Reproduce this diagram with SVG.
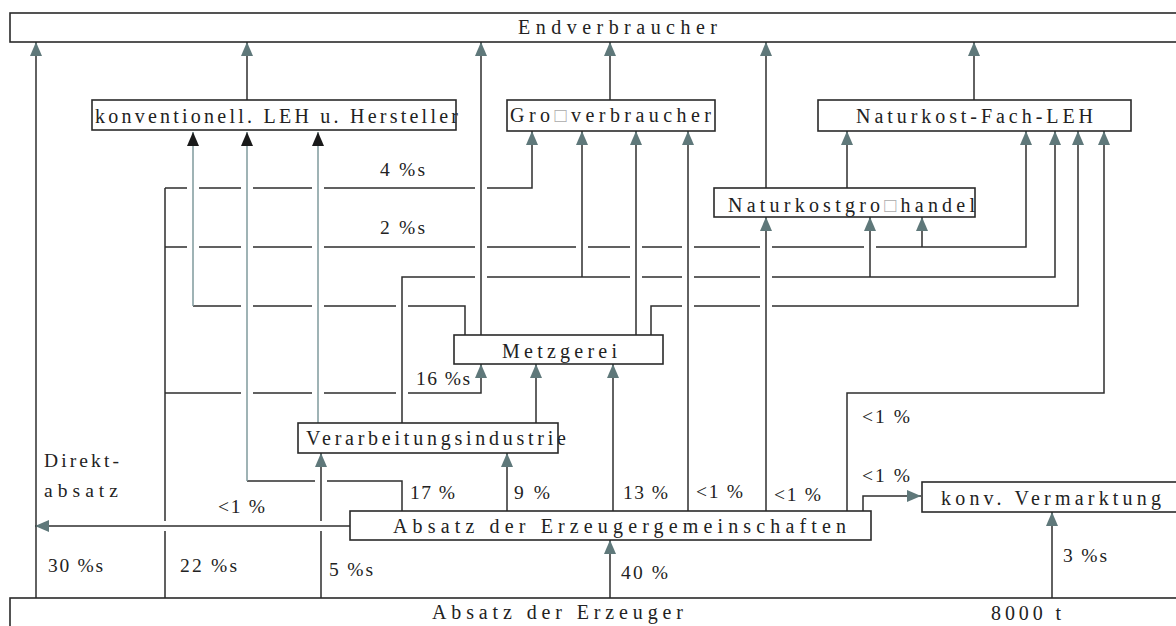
<svg xmlns="http://www.w3.org/2000/svg" width="1176" height="626" viewBox="0 0 1176 626">
<style>
.box{fill:#fff;stroke:#2a2a2a;stroke-width:1.6}
.t{font-family:"Liberation Serif","Times New Roman",serif;font-size:20px;fill:#222}
.p{font-family:"Liberation Serif","Times New Roman",serif;font-size:19.5px;fill:#222}
.c{fill:none;stroke:#2e2e2e;stroke-width:1.5}
.g{fill:none;stroke:#7f9a9c;stroke-width:1.5}
.ga{marker-end:url(#ah)}
.ka{marker-end:url(#ahk)}
.tofu{fill:#aaa}
</style>
<defs>
<marker id="ah" markerUnits="userSpaceOnUse" markerWidth="14" markerHeight="12" refX="14" refY="6" orient="auto">
<path d="M0,0 L14,6 L0,12 Z" fill="#5f787a"/>
</marker>
<marker id="ahk" markerUnits="userSpaceOnUse" markerWidth="14" markerHeight="12" refX="14" refY="6" orient="auto">
<path d="M0,0 L14,6 L0,12 Z" fill="#1a1a1a"/>
</marker>
</defs>
<rect width="1176" height="626" fill="#fff"/>
<g id="connectors">
<path class="c ga" d="M36,598 L36,42"/>
<path class="c ga" d="M247,100 L247,42"/>
<path class="c ga" d="M481,335 L481,42"/>
<path class="c ga" d="M610,100 L610,42"/>
<path class="c ga" d="M766,188 L766,42"/>
<path class="c ga" d="M974,100 L974,42"/>
<path class="c ga" d="M847,188 L847,131"/>
<path class="c ga" d="M350,526 L35,526"/>
<path class="c" d="M165,602 L165,531 M165,521 L165,188"/>
<path class="c ga" d="M165,188 L187,188 M199,188 L241,188 M253,188 L312,188 M324,188 L475,188 M487,188 L532,188 L532,131"/>
<path class="c ga" d="M165,247 L187,247 M199,247 L241,247 M253,247 L312,247 M324,247 L475,247 M487,247 L576,247 M588,247 L630,247 M642,247 L682,247 M694,247 L760,247 M772,247 L864,247 M876,247 L1026,247 L1026,131"/>
<path class="c ga" d="M922,247 L922,217"/>
<path class="c ga" d="M165,393 L241,393 M253,393 L312,393 M324,393 L396,393 M408,393 L481,393 L481,364"/>
<path class="c" d="M465,335 L465,306 L408,306 M396,306 L324,306 M312,306 L253,306 M241,306 L193,306"/>
<path class="g ka" d="M193,306 L193,132"/>
<path class="c" d="M402,511 L402,481 L327,481 M315,481 L247,481"/>
<path class="g ka" d="M247,481 L247,132"/>
<path class="g ka" d="M318,423 L318,132"/>
<path class="c ga" d="M321,598 L321,531 M321,521 L321,453"/>
<path class="c ga" d="M636,335 L636,131"/>
<path class="c ga" d="M651,335 L651,306 L682,306 M694,306 L760,306 M772,306 L1078,306 L1078,131"/>
<path class="c ga" d="M402,423 L402,277 L475,277 M487,277 L630,277 M642,277 L682,277 M694,277 L760,277 M772,277 L1055,277 L1055,131"/>
<path class="c ga" d="M582,277 L582,131"/>
<path class="c ga" d="M870,277 L870,217"/>
<path class="c ga" d="M536,423 L536,364"/>
<path class="c ga" d="M507,511 L507,453"/>
<path class="c ga" d="M613,511 L613,364"/>
<path class="c ga" d="M688,511 L688,131"/>
<path class="c ga" d="M766,511 L766,217"/>
<path class="c ga" d="M847,511 L847,393 L1104,393 L1104,131"/>
<path class="c ga" d="M863,511 L863,496 L921,496"/>
<path class="c ga" d="M610,598 L610,540"/>
<path class="c ga" d="M1052,598 L1052,512"/>
</g>
<g id="labels">
<text class="p" x="380" y="176" textLength="45" lengthAdjust="spacing">4 %s</text>
<text class="p" x="380" y="234" textLength="45" lengthAdjust="spacing">2 %s</text>
<text class="p" x="416" y="385" textLength="54" lengthAdjust="spacing">16 %s</text>
<text class="p" x="410" y="499" textLength="45" lengthAdjust="spacing">17 %</text>
<text class="p" x="514" y="499" textLength="36" lengthAdjust="spacing">9 %</text>
<text class="p" x="623" y="499" textLength="45" lengthAdjust="spacing">13 %</text>
<text class="p" x="696" y="498" textLength="47" lengthAdjust="spacing">&lt;1 %</text>
<text class="p" x="774" y="501" textLength="47" lengthAdjust="spacing">&lt;1 %</text>
<text class="p" x="862" y="423" textLength="48" lengthAdjust="spacing">&lt;1 %</text>
<text class="p" x="862" y="482" textLength="48" lengthAdjust="spacing">&lt;1 %</text>
<text class="p" x="218" y="513" textLength="47" lengthAdjust="spacing">&lt;1 %</text>
<text class="p" x="44" y="467" textLength="75" lengthAdjust="spacing">Direkt-</text>
<text class="p" x="44" y="497" textLength="74" lengthAdjust="spacing">absatz</text>
<text class="p" x="48" y="572" textLength="55" lengthAdjust="spacing">30 %s</text>
<text class="p" x="180" y="572" textLength="57" lengthAdjust="spacing">22 %s</text>
<text class="p" x="329" y="576" textLength="44" lengthAdjust="spacing">5 %s</text>
<text class="p" x="621" y="579" textLength="47" lengthAdjust="spacing">40 %</text>
<text class="p" x="1063" y="562" textLength="44" lengthAdjust="spacing">3 %s</text>
</g>
<g id="endverbraucher">
<rect class="box" x="10" y="13" width="1180" height="29"/>
<text class="t" x="518" y="34" textLength="199" lengthAdjust="spacing">Endverbraucher</text>
</g>
<g id="konv-leh">
<rect class="box" x="92" y="100" width="364" height="30"/>
<text class="t" x="95" y="123" textLength="363" lengthAdjust="spacing">konventionell. LEH u. Hersteller</text>
</g>
<g id="grossverbraucher">
<rect class="box" x="507" y="100" width="208" height="31"/>
<text class="t" x="510" y="122" textLength="201" lengthAdjust="spacing">Gro<tspan class="tofu">□</tspan>verbraucher</text>
</g>
<g id="naturkost-fach-leh">
<rect class="box" x="818" y="100" width="313" height="31"/>
<text class="t" x="856" y="123" textLength="237" lengthAdjust="spacing">Naturkost-Fach-LEH</text>
</g>
<g id="naturkostgrosshandel">
<rect class="box" x="714" y="188" width="261" height="29"/>
<text class="t" x="728" y="212" textLength="247" lengthAdjust="spacing">Naturkostgro<tspan class="tofu">□</tspan>handel</text>
</g>
<g id="metzgerei">
<rect class="box" x="454" y="335" width="209" height="29"/>
<text class="t" x="502" y="358" textLength="115" lengthAdjust="spacing">Metzgerei</text>
</g>
<g id="verarbeitungsindustrie">
<rect class="box" x="298" y="423" width="260" height="30"/>
<text class="t" x="306" y="445" textLength="260" lengthAdjust="spacing">Verarbeitungsindustrie</text>
</g>
<g id="absatz-eg">
<rect class="box" x="350" y="511" width="521" height="29"/>
<text class="t" x="393" y="533" textLength="453" lengthAdjust="spacing">Absatz der Erzeugergemeinschaften</text>
</g>
<g id="konv-vermarktung">
<rect class="box" x="922" y="482" width="270" height="30"/>
<text class="t" x="941" y="505" textLength="220" lengthAdjust="spacing">konv. Vermarktung</text>
</g>
<g id="absatz-erzeuger">
<rect class="box" x="10" y="598" width="1180" height="40"/>
<text class="t" x="432" y="619" textLength="251" lengthAdjust="spacing">Absatz der Erzeuger</text>
<text class="t" x="991" y="620" textLength="70" lengthAdjust="spacing">8000 t</text>
</g>
</svg>
